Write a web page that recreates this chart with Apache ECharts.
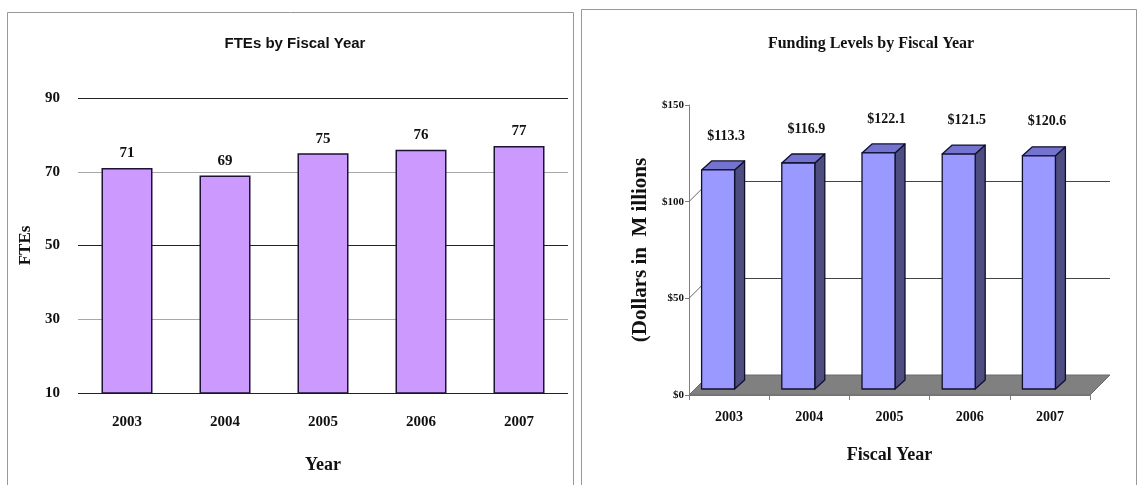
<!DOCTYPE html>
<html><head><meta charset="utf-8">
<script src="https://cdn.jsdelivr.net/npm/echarts@6/dist/echarts.min.js"></script>
<style>html,body{margin:0;padding:0;background:#fff}#c{width:1141px;height:485px}</style>
</head><body><div id="c"></div>
<script>
const years = ['2003','2004','2005','2006','2007'];
const ftes = [71, 69, 75, 76, 77];
const funding = [113.3, 116.9, 122.1, 121.5, 120.6];
const fteTicks = [10, 30, 50, 70, 90];
const fundingGridValues = [50, 100];

const serif = 'Liberation Serif';
const sans = 'Liberation Sans';
const chart = echarts.init(document.getElementById('c'));

const DX = 20, DY = -20; // back wall depth

chart.setOption({
  animation: false,
  backgroundColor: '#fff',
  title: [
    {text: 'FTEs by Fiscal Year', left: 290, top: 31, textAlign: 'center',
     textStyle: {fontFamily: sans, fontWeight: 'bold', fontSize: 15, color: '#111'}},
    {text: 'Funding Levels by Fiscal Year', left: 866, top: 31, textAlign: 'center',
     textStyle: {fontFamily: serif, fontWeight: 'bold', fontSize: 16, color: '#111'}}
  ],
  graphic: [
    {type: 'rect', shape: {x: 7.5, y: 12.5, width: 566, height: 500}, style: {fill: 'none', stroke: '#999', lineWidth: 1}, silent: true},
    {type: 'rect', shape: {x: 581.5, y: 9.5, width: 555, height: 500}, style: {fill: 'none', stroke: '#999', lineWidth: 1}, silent: true}
  ],
  grid: [
    {left: 78, top: 98, width: 490, height: 295},
    {left: 689, top: 105, width: 401, height: 290},
    {left: 689 + DX, top: 105 + DY, width: 401, height: 290}
  ],
  xAxis: [
    {type: 'category', gridIndex: 0, data: years,
     axisLine: {show: false}, axisTick: {show: false},
     axisLabel: {margin: 22, fontFamily: serif, fontWeight: 'bold', fontSize: 15, color: '#111'},
     name: 'Year', nameLocation: 'middle', nameGap: 63,
     nameTextStyle: {fontFamily: serif, fontWeight: 'bold', fontSize: 18, color: '#111'}},
    {type: 'category', gridIndex: 1, data: years,
     axisLine: {show: true, lineStyle: {color: '#808080', width: 1}},
     axisTick: {show: true, length: 5, lineStyle: {color: '#808080'}},
     axisLabel: {margin: 15, fontFamily: serif, fontWeight: 'bold', fontSize: 14, color: '#111'},
     name: 'Fiscal Year', nameLocation: 'middle', nameGap: 51,
     nameTextStyle: {fontFamily: serif, fontWeight: 'bold', fontSize: 18, color: '#111'}},
    {type: 'category', gridIndex: 2, data: years, show: false}
  ],
  yAxis: [
    {type: 'value', gridIndex: 0, min: 10, max: 90,
     axisLine: {show: false},
     axisTick: {show: false, customValues: fteTicks},
     axisLabel: {customValues: fteTicks, margin: 18, fontFamily: serif, fontWeight: 'bold', fontSize: 15, color: '#111'},
     splitLine: {show: true, lineStyle: {color: ['#222', '#a8a8a8'], width: 1}},
     name: 'FTEs', nameLocation: 'middle', nameGap: 44, nameRotate: 90,
     nameTextStyle: {fontFamily: serif, fontWeight: 'bold', fontSize: 17, color: '#111'}},
    {type: 'value', gridIndex: 1, min: 0, max: 150, interval: 50,
     axisLine: {show: true, lineStyle: {color: '#808080', width: 1}},
     axisTick: {show: true, length: 4, lineStyle: {color: '#808080'}},
     axisLabel: {margin: 5, fontFamily: serif, fontWeight: 'bold', fontSize: 11, color: '#111',
                 formatter: v => '$' + v},
     splitLine: {show: false},
     name: '(Dollars in  M illions', nameLocation: 'middle', nameGap: 38, nameRotate: 90,
     nameTextStyle: {fontFamily: serif, fontWeight: 'bold', fontSize: 21, color: '#111'}},
    {type: 'value', gridIndex: 2, min: 0, max: 150, interval: 50,
     axisLine: {show: false}, axisTick: {show: false}, axisLabel: {show: false},
     splitLine: {show: true, showMinLine: false, showMaxLine: false,
                 lineStyle: {color: '#444', width: 1}}}
  ],
  series: [
    {type: 'bar', xAxisIndex: 0, yAxisIndex: 0, data: ftes, barWidth: 51,
     itemStyle: {color: '#CC99FF', borderColor: '#1c1233', borderWidth: 1.5},
     label: {show: true, position: 'top', distance: 7, fontFamily: serif, fontWeight: 'bold', fontSize: 15, color: '#111'}},
    // floor of 3D chart
    {type: 'custom', xAxisIndex: 1, yAxisIndex: 1, data: [[0, 0]], z: 1, silent: true,
     renderItem: (params, api) => {
       const cs = params.coordSys;
       const y0 = api.coord([0, 0])[1];
       return {type: 'polygon', shape: {points: [
         [cs.x, y0], [cs.x + cs.width, y0], [cs.x + cs.width + DX, y0 + DY], [cs.x + DX, y0 + DY]
       ]}, style: {fill: '#808080', stroke: '#6a6a6a', lineWidth: 1}};
     }},
    // connectors from front axis to back wall
    {type: 'custom', xAxisIndex: 1, yAxisIndex: 1, data: fundingGridValues.map(v => [0, v]), z: 1, silent: true,
     renderItem: (params, api) => {
       const cs = params.coordSys;
       const y = api.coord([0, api.value(1)])[1];
       return {type: 'line', shape: {x1: cs.x, y1: y, x2: cs.x + DX, y2: y + DY},
               style: {stroke: '#666', lineWidth: 1}};
     }},
    // 3D bars
    {type: 'custom', xAxisIndex: 1, yAxisIndex: 1, z: 3,
     data: funding.map((v, i) => [i, v]),
     renderItem: (params, api) => {
       const c = api.coord([api.value(0), api.value(1)]);
       const b = api.coord([api.value(0), 0]);
       const w = 33, ox = -11, oy = -6, dx = 10, dy = -9;
       const L = c[0] + ox - w / 2, R = L + w;
       const T = c[1] + oy, B = b[1] + oy;
       const st = {stroke: '#10102e', lineWidth: 1.3, lineJoin: 'round'};
       return {type: 'group', children: [
         {type: 'polygon', shape: {points: [[R, T], [R + dx, T + dy], [R + dx, B + dy], [R, B]]},
          style: Object.assign({fill: '#4d4d80'}, st)},
         {type: 'polygon', shape: {points: [[L, T], [L + dx, T + dy], [R + dx, T + dy], [R, T]]},
          style: Object.assign({fill: '#7474d0'}, st)},
         {type: 'rect', shape: {x: L, y: T, width: w, height: B - T},
          style: Object.assign({fill: '#9999ff'}, st)},
         {type: 'text', x: c[0] - 3, y: T - 27,
          style: {text: '$' + api.value(1).toFixed(1), align: 'center', verticalAlign: 'bottom',
                  font: 'bold 14px "Liberation Serif"', fill: '#111'}}
       ]};
     }}
  ]
});
</script></body></html>
